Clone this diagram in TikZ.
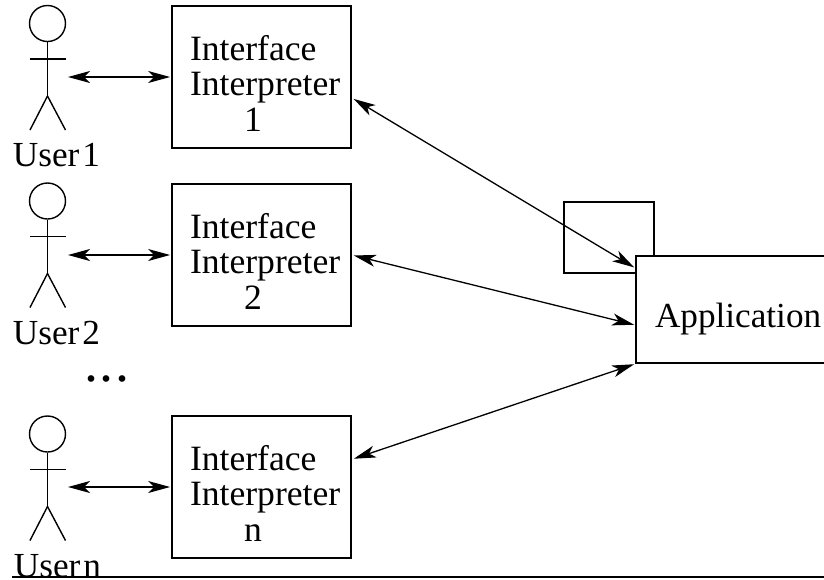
\documentclass[tikz,border=0pt]{standalone}
\usepackage{fontspec}
\setmainfont{Liberation Serif}
\usetikzlibrary{arrows.meta}
\tikzset{
    thing/.style = {draw, line width = 0.9pt},
    head/.style = {draw, circle, line width = 0.7pt, inner sep = 0pt, minimum size = 18pt},
    limb/.style = {line width = 0.7pt},
    iface/.style = {thing, inner sep = 0pt, text width = 89.5pt, minimum height = 71pt, align = left, font = \fontsize{17.8}{17.8}\selectfont},
    link/.style = {{Stealth[length = 11pt, width = 6pt, inset = 3pt]}-{Stealth[length = 11pt, width = 6pt, inset = 3pt]}, line width = 0.65pt, shorten < = 1pt, shorten > = 0.5pt},
    username/.style = {anchor = base, inner sep = 0pt, font = \fontsize{17.6}{17.8}\selectfont},
}
\newcommand{\ifacetext}[1]{\rule{0pt}{18.6pt}\hspace*{9pt}Interface\\\hspace*{9pt}Interpreter\\\hspace*{36pt}#1}

\begin{document}
\begin{tikzpicture}[x = 0.5pt, y = -0.5pt]
    \useasboundingbox (0, 0) rectangle (824, 579);

    \node[head] (head1) at (47.5, 23.5) {};
    \node[head] (head2) at (47.5, 201) {};
    \node[head] (head3) at (47.5, 434) {};

    \node[username] (user1) at (56.5, 166) {User\kern1.5pt 1};
    \node[username] (user2) at (56.5, 344) {User\kern1.5pt 2};
    \node[username] (user3) at (57.5, 577) {User\kern1.5pt n};

    \node[iface] (iface1) at (261.5, 77) {\ifacetext{1}};
    \node[iface] (iface2) at (261.5, 255) {\ifacetext{2}};
    \node[iface] (iface3) at (261.5, 487) {\ifacetext{n}};

    \node[thing, minimum width = 45pt, minimum height = 35.5pt] (small) at (609, 237.5) {};
    \node[thing, fill = white, inner sep = 0pt, text width = 97pt, minimum height = 53.5pt, align = left, font = \fontsize{17.6}{17.8}\selectfont] (app) at (733, 309.5) {\rule{0pt}{22pt}\hspace*{9.5pt}Application};

    \node[anchor = base, inner sep = 0pt, font = \fontsize{28}{28}\selectfont] (dots) at (107, 381) {.\kern1pt.\kern1pt.};

    \draw[limb] (head1) -- ++(0, 72.5) coordinate (hip1);
    \draw[limb] (hip1) -- ++(-17.5, 34);
    \draw[limb] (hip1) -- ++(18, 34);
    \draw[limb] (head1) ++(-17.5, 35.5) -- ++(36, 0);

    \draw[limb] (head2) -- ++(0, 72.5) coordinate (hip2);
    \draw[limb] (hip2) -- ++(-17.5, 34);
    \draw[limb] (hip2) -- ++(18, 34);
    \draw[limb] (head2) ++(-17.5, 35.5) -- ++(36, 0);

    \draw[limb] (head3) -- ++(0, 72.5) coordinate (hip3);
    \draw[limb] (hip3) -- ++(-17.5, 34);
    \draw[limb] (hip3) -- ++(18, 34);
    \draw[limb] (head3) ++(-17.5, 35.5) -- ++(36, 0);

    \coordinate (hand1) at (66, 77);
    \coordinate (hand2) at (66, 255);
    \coordinate (hand3) at (66, 487);

    \draw[link] (hand1) -- (iface1);
    \draw[link] (hand2) -- (iface2);
    \draw[link] (hand3) -- (iface3);

    \draw[link] (iface1.-13.2) -- (app.157.9);
    \draw[link] (iface2.east) -- (app.189.85);
    \draw[link] (iface3.17.1) -- (app.south west);

    \coordinate (ruleleft) at (12, 577);
    \coordinate (ruleright) at (824, 577);
    \draw[line width = 0.6pt] (ruleleft) -- (ruleright);
\end{tikzpicture}
\end{document}
